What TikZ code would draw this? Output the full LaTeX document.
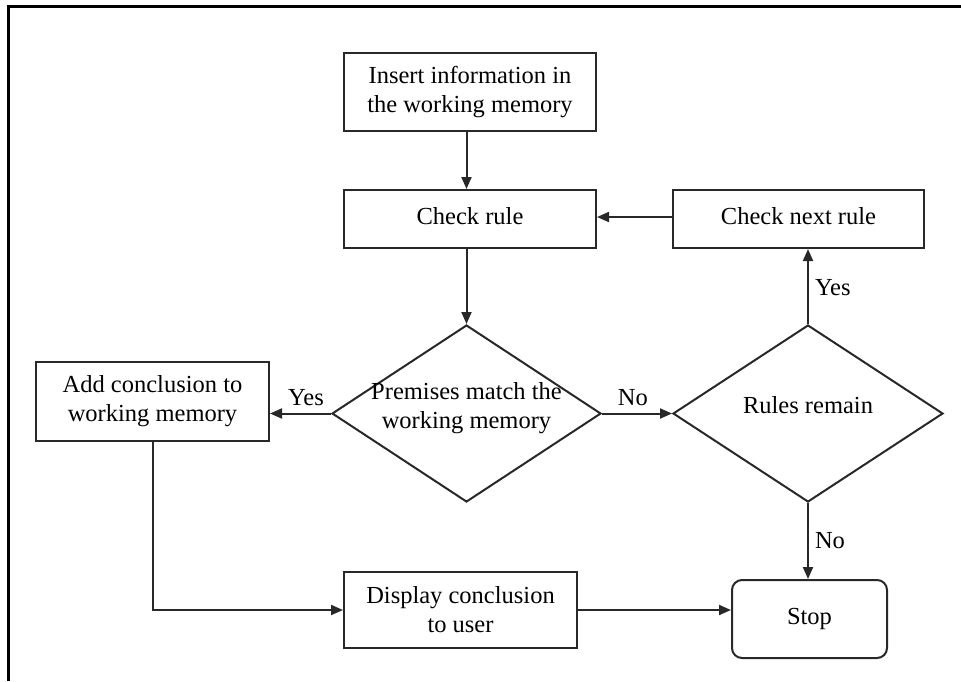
\documentclass[tikz,border=0pt]{standalone}
\usepackage{fontspec}
\setmainfont{Liberation Serif}
\usetikzlibrary{shapes.geometric,arrows.meta,calc}

\begin{document}
\begin{tikzpicture}[x=1pt,y=-1pt,
  line width=2pt,
  ink/.style={draw={rgb,255:red,40;green,40;blue,40}},
  txt/.style={font=\fontsize{24.5}{29}\selectfont, align=center, inner sep=0pt},
  procbox/.style={ink, rectangle, txt},
  endbox/.style={ink, rectangle, rounded corners=10pt, txt},
  decision/.style={ink, diamond, inner sep=0pt},
  flow/.style={ink, -{Triangle[length=12pt,width=10pt]}},
  lbl/.style={txt, inner sep=2pt}
]
  % canvas and frame
  \useasboundingbox (0,0) rectangle (961,681);
  \draw[line width=3pt, black] (8,681) -- (8,6) -- (961,6);

  % process boxes
  \node[procbox, minimum width=252, minimum height=78] (ins) at (470,92)
    {Insert information in\\the working memory};
  \node[procbox, minimum width=252, minimum height=58] (chk) at (470,219)
    {\raisebox{7pt}{Check rule}};
  \node[procbox, minimum width=251, minimum height=58] (nxt) at (798.5,219)
    {\raisebox{7pt}{Check next rule}};
  \node[procbox, minimum width=233, minimum height=79] (add) at (152.5,401.5)
    {Add conclusion to\\working memory};
  \node[procbox, minimum width=233, minimum height=76] (disp) at (460.5,610)
    {Display conclusion\\to user};
  \node[endbox, minimum width=155, minimum height=78] (stop) at (809.5,619)
    {Stop};

  % decisions
  \node[decision, minimum width=269, minimum height=177,
        label={[txt, yshift=5pt]center:Premises match the\\working memory}]
        (prem) at (466.5,413.5) {};
  \node[decision, minimum width=270, minimum height=177,
        label={[txt, yshift=8pt]center:Rules remain}]
        (rem) at (808,413.5) {};

  % connectors
  \draw[flow] (ins.south -| prem.north) -- (chk.north -| prem.north);
  \draw[flow] (chk.south -| prem.north) -- (prem.north);
  \draw[flow] (prem.west) -- node[lbl, above=5pt, pos=0.41] {Yes} (prem.west -| add.east);
  \draw[flow] (prem.east) -- node[lbl, above=5pt, pos=0.44] {No} (rem.west);
  \draw[flow] (rem.north) -- node[lbl, right=4pt, pos=0.48] {Yes} (rem.north |- nxt.south);
  \draw[flow] ([yshift=2pt]nxt.west) -- ([yshift=2pt]chk.east);
  \draw[flow] (rem.south) -- node[lbl, right=4pt, pos=0.5] {No} (rem.south |- stop.north);
  \draw[flow] (add.south) |- (disp.west);
  \draw[flow] (disp.east) -- (disp.east -| stop.west);
\end{tikzpicture}
\end{document}
